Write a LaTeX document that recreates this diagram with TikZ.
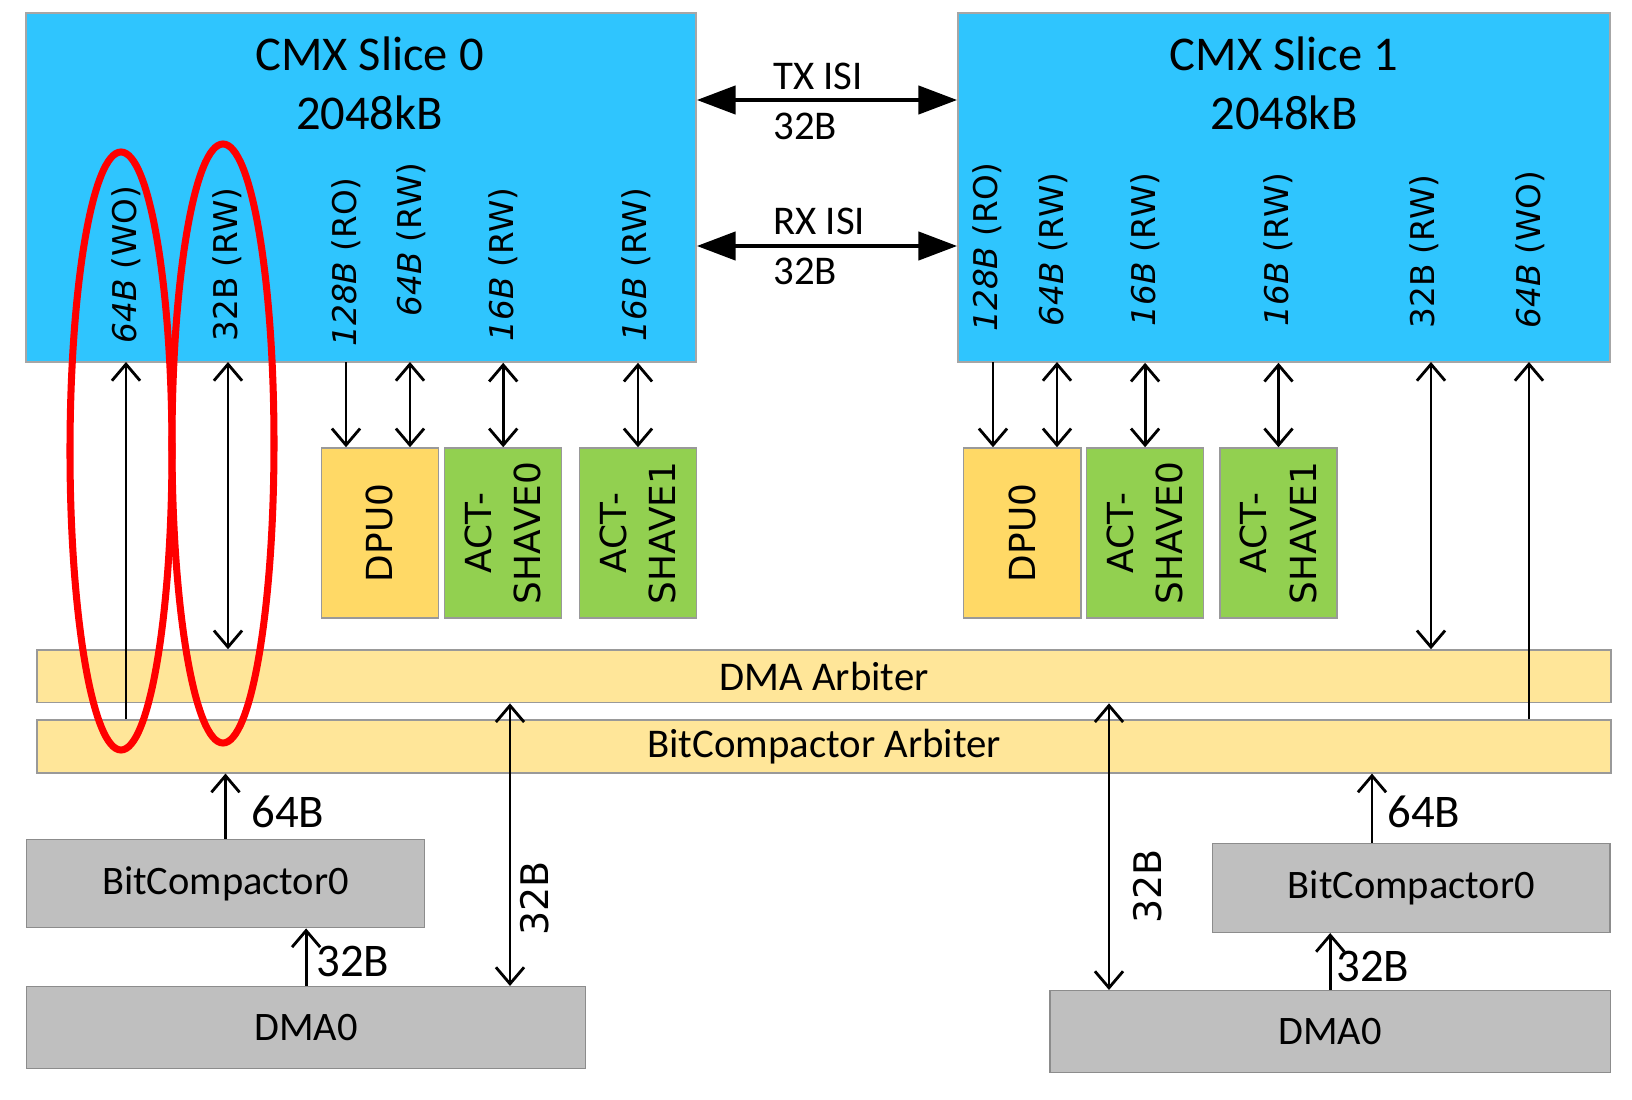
\documentclass[tikz,border=0pt]{standalone}
\usepackage{fontspec}
\setmainfont{Carlito}
\newfontfamily\dvsans{DejaVu Sans}
\usetikzlibrary{arrows.meta}
\definecolor{cmxblue}{HTML}{2FC5FE}
\definecolor{dpugold}{HTML}{FFD966}
\definecolor{shavegreen}{HTML}{92D050}
\definecolor{arbyellow}{HTML}{FFE699}
\definecolor{blkgray}{HTML}{BFBFBF}

\begin{document}
\begin{tikzpicture}[x=0.01cm, y=-0.01cm, >={Straight Barb[length=4.7pt,width=8pt]}, line width=0.8pt,
	cmx/.style={draw=gray!70, fill=cmxblue, line width=0.4pt, minimum height=34.9mm, inner sep=0pt},
	title/.style={align=center, font=\fontsize{13.8}{16.8}\selectfont},
	lbl/.style={inner sep=0pt, font=\fontsize{11.6}{14}\selectfont},
	num/.style={inner sep=0pt, anchor=west, font=\fontsize{13.3}{16}\selectfont},
	port/.style={rotate=90, anchor=west, inner sep=0pt, font=\dvsans\fontsize{9.3}{11}\selectfont},
	vlbl/.style={rotate=90, inner sep=0pt, font=\dvsans\fontsize{10.8}{12}\selectfont},
	unit/.style={rotate=90, draw=gray!80, line width=0.4pt, minimum width=17mm, minimum height=11.7mm, inner sep=0pt, align=center, font=\dvsans\fontsize{10.2}{14}\selectfont},
	arb/.style={draw=gray!80, fill=arbyellow, line width=0.4pt, minimum width=157.3mm, minimum height=5.27mm, inner sep=0pt, font=\fontsize{11.6}{14}\selectfont},
	blk/.style={draw=gray!90, fill=blkgray, line width=0.4pt, inner sep=0pt, font=\fontsize{11.5}{14}\selectfont},
	isi/.style={{Triangle[length=11pt,width=8pt]}-{Triangle[length=11pt,width=8pt]}, line width=1.1pt}]
	\useasboundingbox (0,0) rectangle (1632,1100);
	
	% 1. CMX slices
	\node[cmx, minimum width=67mm] (s0) at (361,187.5) {};
	\node[cmx, minimum width=65.2mm] (s1) at (1284,187.5) {};
	\node[title] (t0) at (369.6,83.5) {CMX Slice 0\\2048kB};
	\node[title] (t1) at (1284,83.5) {CMX Slice 1\\2048kB};
	
	% 2. ISI links between the slices
	\coordinate (txy) at (0,100);
	\coordinate (rxy) at (0,246);
	\draw[isi] (s0.east |- txy) -- (s1.west |- txy);
	\draw[isi] (s0.east |- rxy) -- (s1.west |- rxy);
	\node[lbl, anchor=west] (txl) at (772,76.7) {TX ISI};
	\node[lbl, anchor=west] (txw) at (772,126) {32B};
	\node[lbl, anchor=west] (rxl) at (772,221.7) {RX ISI};
	\node[lbl, anchor=west] (rxw) at (772,271.7) {32B};
	
	% 3. port widths
	\node[port] (l0wo) at (126,345) {{\itshape 64B} (WO)};
	\node[port] (l0dr) at (227,343) {32B (RW)};
	\node[port] (l0ro) at (346,348) {{\itshape 128B} (RO)};
	\node[port] (l0rw) at (411,318) {{\itshape 64B} (RW)};
	\node[port] (l0s0) at (503,343) {{\itshape 16B} (RW)};
	\node[port] (l0s1) at (636,343) {{\itshape 16B} (RW)};
	\node[port] (l1ro) at (987,333) {{\itshape 128B} (RO)};
	\node[port] (l1rw) at (1053,328) {{\itshape 64B} (RW)};
	\node[port] (l1s0) at (1145,328) {{\itshape 16B} (RW)};
	\node[port] (l1s1) at (1278,328) {{\itshape 16B} (RW)};
	\node[port] (l1dr) at (1424,330) {32B (RW)};
	\node[port] (l1wo) at (1530,330) {{\itshape 64B} (WO)};
	
	% 4. DPU and ACT-SHAVE units
	\node[unit, fill=dpugold] (dpu0) at (379.75,533) {DPU0};
	\node[unit, fill=shavegreen] (sh00) at (503.2,533) {ACT-\\SHAVE0};
	\node[unit, fill=shavegreen] (sh01) at (638,533) {ACT-\\SHAVE1};
	\node[unit, fill=dpugold] (dpu1) at (1022.3,533) {DPU0};
	\node[unit, fill=shavegreen] (sh10) at (1145.1,533) {ACT-\\SHAVE0};
	\node[unit, fill=shavegreen] (sh11) at (1278.5,533) {ACT-\\SHAVE1};
	
	% 5. arbiters
	\node[arb] (dma) at (824,676.3) {DMA Arbiter};
	\node[arb] (bca) at (824,746.5) {BitCompactor Arbiter};
	
	% 6. DMA and BitCompactor blocks
	\node[blk, minimum width=39.8mm, minimum height=8.84mm] (bc0L) at (225.5,883.5) {BitCompactor0};
	\node[blk, minimum width=55.9mm, minimum height=8.16mm] (dma0L) at (306.1,1027.5) {DMA0};
	\node[blk, minimum width=39.7mm, minimum height=8.9mm] (bc0R) at (1411.3,887.8) {BitCompactor0};
	\node[blk, minimum width=56mm, minimum height=8.16mm] (dma0R) at (1330.2,1031.5) {DMA0};
	
	% 7. slice port connectors
	\coordinate (p0wo) at (126,362);
	\coordinate (p0dr) at (228,362);
	\coordinate (p0ro) at (346,362);
	\coordinate (p0rw) at (410,362);
	\coordinate (p1ro) at (993,362);
	\coordinate (p1rw) at (1057,362);
	\coordinate (p1dr) at (1431,362);
	\coordinate (p1wo) at (1529,362);
	\draw[->] (p0wo |- bca.north) -- (p0wo);
	\draw[<->] (p0dr) -- (p0dr |- dma.north);
	\draw[->] (p0ro) -- (p0ro |- dpu0.east);
	\draw[<->] (p0rw) -- (p0rw |- dpu0.east);
	\draw[<->] (sh00.east |- s0.south) -- (sh00.east);
	\draw[<->] (sh01.east |- s0.south) -- (sh01.east);
	\draw[->] (p1ro) -- (p1ro |- dpu1.east);
	\draw[<->] (p1rw) -- (p1rw |- dpu1.east);
	\draw[<->] (sh10.east |- s1.south) -- (sh10.east);
	\draw[<->] (sh11.east |- s1.south) -- (sh11.east);
	\draw[<->] (p1dr) -- (p1dr |- dma.north);
	\draw[->] (p1wo |- bca.north) -- (p1wo);
	
	% 8. lower connectors
	\draw[->] (bc0L.north) -- (bc0L.north |- bca.south);
	\node[num] (w64L) at (250,811.7) {64B};
	\draw[->] (dma0L.north) -- (dma0L.north |- bc0L.south);
	\node[num] (w32L) at (315,961.7) {32B};
	\coordinate (vL) at (510,0);
	\draw[<->] (vL |- dma.south) -- (vL |- dma0L.north);
	\node[vlbl] (v32L) at (534.7,898.3) {32B};
	\coordinate (vR) at (1109,0);
	\draw[<->] (vR |- dma.south) -- (vR |- dma0R.north);
	\node[vlbl] (v32R) at (1147.5,886.7) {32B};
	\coordinate (uR) at (1372,0);
	\draw[->] (uR |- bc0R.north) -- (uR |- bca.south);
	\node[num] (w64R) at (1386,811.7) {64B};
	\draw[->] (dma0R.north) -- (dma0R.north |- bc0R.south);
	\node[num] (w32R) at (1335,966.7) {32B};
	
	% 9. red highlight rings
	\draw[red, line width=2pt] (121,451) ellipse [x radius=51, y radius=299];
	\draw[red, line width=2pt] (223,443.5) ellipse [x radius=51, y radius=299.5];
\end{tikzpicture}
\end{document}
